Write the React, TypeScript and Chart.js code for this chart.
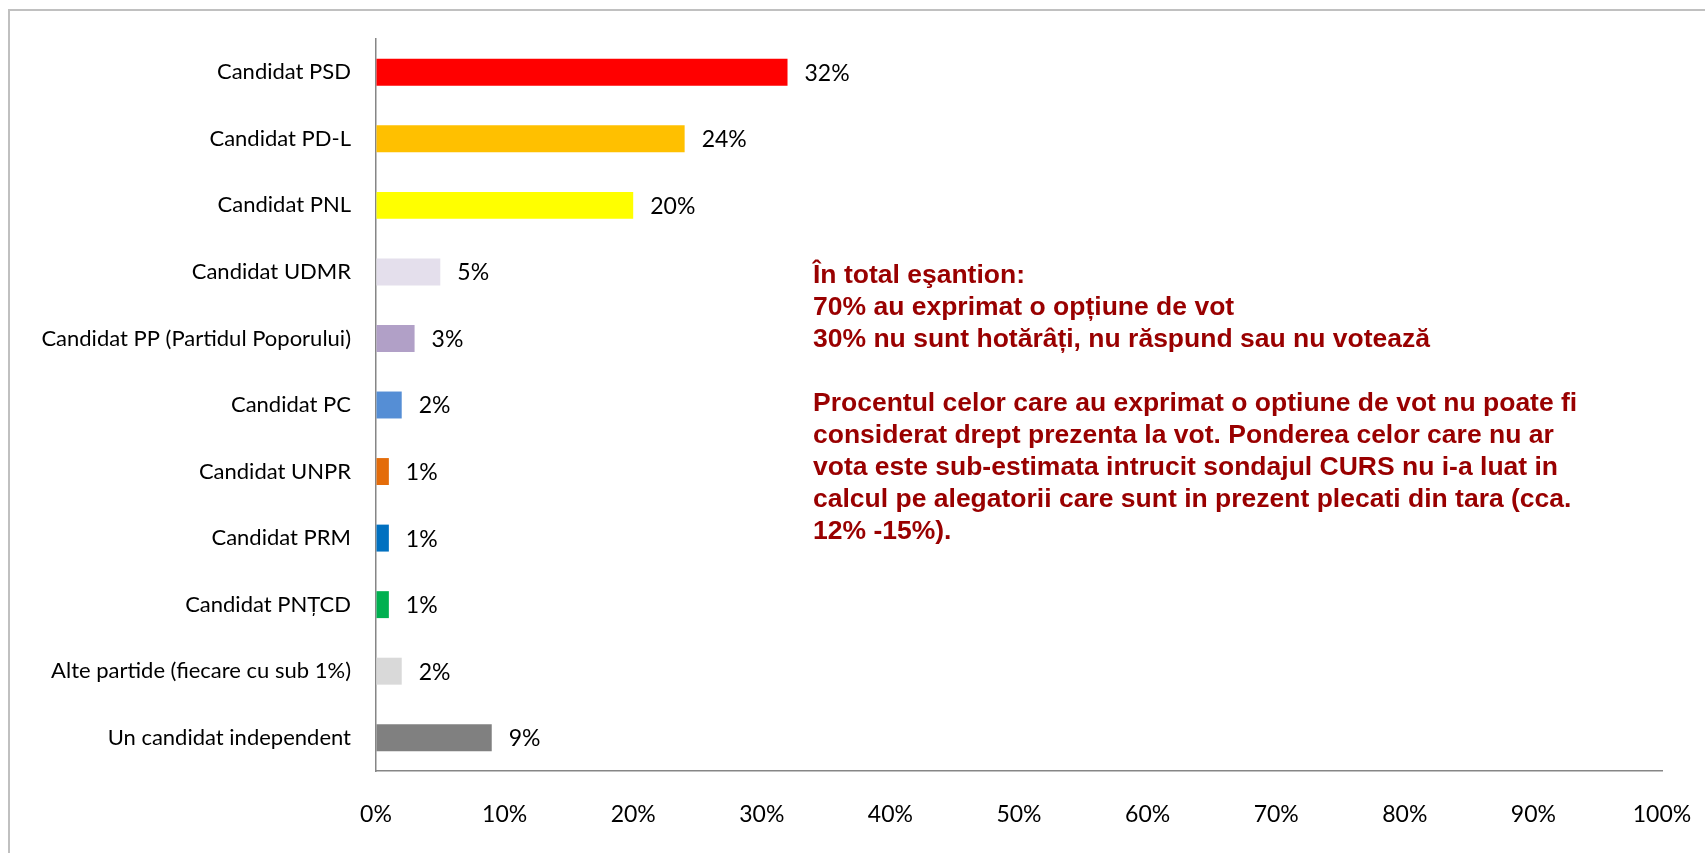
import React, { useEffect, useRef } from "react";
import { Chart, registerables } from "chart.js";

Chart.register(...registerables);

const categories = [
  "Candidat PSD",
  "Candidat PD-L",
  "Candidat PNL",
  "Candidat UDMR",
  "Candidat PP (Partidul Poporului)",
  "Candidat PC",
  "Candidat UNPR",
  "Candidat PRM",
  "Candidat PNȚCD",
  "Alte partide (fiecare cu sub 1%)",
  "Un candidat independent",
];

const values = [32, 24, 20, 5, 3, 2, 1, 1, 1, 2, 9];

const barColors = [
  "#FF0000",
  "#FFC000",
  "#FFFF00",
  "#E4DFEC",
  "#B1A0C7",
  "#558ED5",
  "#E46C0A",
  "#0070C0",
  "#00B050",
  "#D9D9D9",
  "#808080",
];

const xMin = 0;
const xMax = 100;
const xStep = 10;

const noteLines = [
  "În total eşantion:",
  "70% au exprimat o opțiune de vot",
  "30% nu sunt hotărâți, nu răspund sau nu votează",
  "",
  "Procentul celor care au exprimat o optiune de vot nu poate fi",
  "considerat drept prezenta la vot. Ponderea celor care nu ar",
  "vota este sub-estimata intrucit sondajul CURS nu i-a luat in",
  "calcul pe alegatorii care sunt in prezent plecati din tara (cca.",
  "12% -15%).",
];

const LABEL_FONT = "Lato, 'Noto Sans', sans-serif";

const valueLabels = {
  id: "valueLabels",
  afterDatasetsDraw(chart: any) {
    const ctx = chart.ctx;
    const meta = chart.getDatasetMeta(0);
    const data = chart.data.datasets[0].data;
    ctx.save();
    ctx.font = `23px ${LABEL_FONT}`;
    ctx.fillStyle = "#000000";
    ctx.textAlign = "left";
    ctx.textBaseline = "middle";
    meta.data.forEach((bar: any, i: number) => {
      ctx.fillText(`${data[i]}%`, bar.x + 17, bar.y + 1);
    });
    ctx.restore();
  },
};

export default function App() {
  const canvasRef = useRef<HTMLCanvasElement | null>(null);

  useEffect(() => {
    if (!canvasRef.current) return;
    const chart = new Chart(canvasRef.current, {
      type: "bar",
      data: {
        labels: categories,
        datasets: [
          {
            data: values,
            backgroundColor: barColors,
            borderWidth: 0,
            categoryPercentage: 1,
            barPercentage: 0.405,
          },
        ],
      },
      plugins: [valueLabels],
      options: {
        indexAxis: "y",
        responsive: false,
        animation: false,
        devicePixelRatio: 1,
        layout: { padding: { top: 39, right: 43, left: 0, bottom: 0 } },
        plugins: {
          legend: { display: false },
          tooltip: { enabled: false },
          title: { display: false },
        },
        scales: {
          x: {
            type: "linear",
            min: xMin,
            max: xMax,
            grid: {
              display: true,
              drawOnChartArea: false,
              drawTicks: true,
              tickLength: 30,
              tickColor: "rgba(0,0,0,0)",
              color: "rgba(0,0,0,0)",
            },
            border: { display: true, color: "#868686", width: 1.5 },
            ticks: {
              stepSize: xStep,
              padding: 0,
              color: "#000000",
              font: { family: LABEL_FONT, size: 23 },
              maxRotation: 0,
              autoSkip: false,
              callback: (v: any) => `${v}%`,
            },
            afterFit: (scale: any) => {
              scale.height = 82;
            },
          },
          y: {
            type: "category",
            grid: { display: false, drawTicks: false },
            border: { display: true, color: "#868686", width: 1.5 },
            ticks: {
              padding: 25,
              color: "#000000",
              font: { family: LABEL_FONT, size: 22 },
              autoSkip: false,
            },
            afterFit: (scale: any) => {
              scale.width = 376;
            },
          },
        },
      },
    });
    return () => chart.destroy();
  }, []);

  return (
    <>
      <div
        style={{
          position: "fixed",
          left: 8,
          top: 9,
          width: 2000,
          height: 2000,
          borderTop: "2px solid #c0c0c0",
          borderLeft: "2px solid #c0c0c0",
          boxSizing: "border-box",
        }}
      />
      <canvas
        ref={canvasRef}
        width={1705}
        height={853}
        style={{ position: "fixed", left: 0, top: 0, width: 1705, height: 853 }}
      />
      <div
        style={{
          position: "fixed",
          left: 813,
          top: 258,
          fontFamily: "'Liberation Sans', Arial, sans-serif",
          fontWeight: "bold",
          fontSize: "26.5px",
          lineHeight: "32px",
          color: "#990000",
          whiteSpace: "pre",
        }}
      >
        {noteLines.map((line, i) => (
          <div key={i}>{line === "" ? "\u00a0" : line}</div>
        ))}
      </div>
    </>
  );
}
